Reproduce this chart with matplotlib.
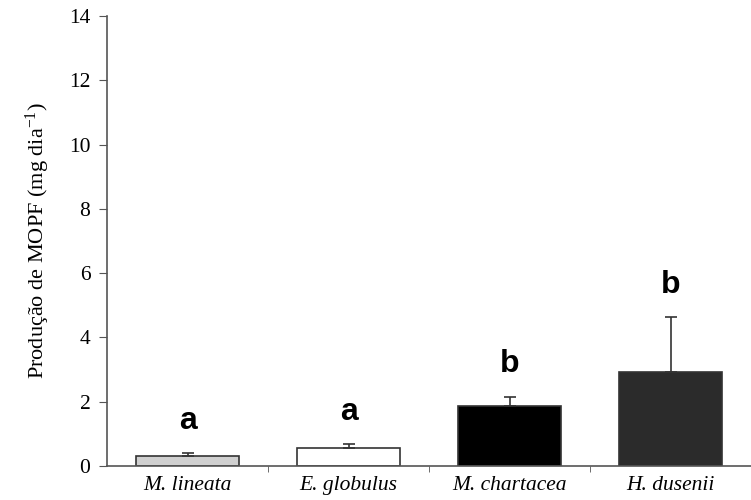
import numpy as np
import matplotlib.pyplot as plt

species = ["M. lineata", "E. globulus", "M. chartacea", "H. dusenii"]
mopf = [0.31, 0.56, 1.87, 2.92]
err = [0.09, 0.12, 0.29, 1.71]
letters = ["a", "a", "b", "b"]
colors = ["#d0d0d0", "#ffffff", "#000000", "#2b2b2b"]

plt.rcParams['font.family'] = ['Liberation Serif', 'DejaVu Serif']
plt.rcParams['mathtext.fontset'] = 'custom'
plt.rcParams['mathtext.rm'] = 'Liberation Serif'
plt.rcParams['mathtext.it'] = 'Liberation Serif:italic'

fig = plt.figure(figsize=(7.51, 5.0), dpi=100)
ax = fig.add_axes([0.1425, 0.068, 0.8575, 0.9])

x = np.arange(len(species))
ax.bar(x, mopf, width=0.645, color=colors, edgecolor="#333333", linewidth=1.2, zorder=2)
ax.errorbar(x, mopf, yerr=[np.zeros(len(err)), err], fmt="none", ecolor="#333333",
            elinewidth=1.2, capsize=4, capthick=1.2, zorder=3)

# letras de significancia acima das barras
for xi, m, e, l in zip(x, mopf, err, letters):
    ax.text(xi, m + e + 1.0, l, ha="center", va="center", fontsize=23, fontweight="bold",
            family=["Liberation Sans", "DejaVu Sans"])

ax.set_xlim(-0.5, 3.5)
ax.set_ylim(0, 14)
ax.set_yticks(np.arange(0, 15, 2))
ax.set_xticks(x)
ax.set_xticklabels(species, fontstyle="italic", fontsize=15.5)
ax.set_xticks(np.arange(0.5, 3.5, 1), minor=True)
ax.tick_params(axis="x", which="major", length=0, pad=7)
ax.tick_params(axis="x", which="minor", length=4, direction="out", color="#555555")
ax.tick_params(axis="y", length=6, direction="out", color="#555555", labelsize=15.5, pad=6)

ax.set_ylabel("Produção de MOPF (mg dia$^{\\mathrm{-1}}$)", fontsize=16, labelpad=12)

for s in ["top", "right"]:
    ax.spines[s].set_visible(False)
for s in ["left", "bottom"]:
    ax.spines[s].set_color("#555555")
    ax.spines[s].set_linewidth(1.2)

fig.savefig("out.png", dpi=100)
